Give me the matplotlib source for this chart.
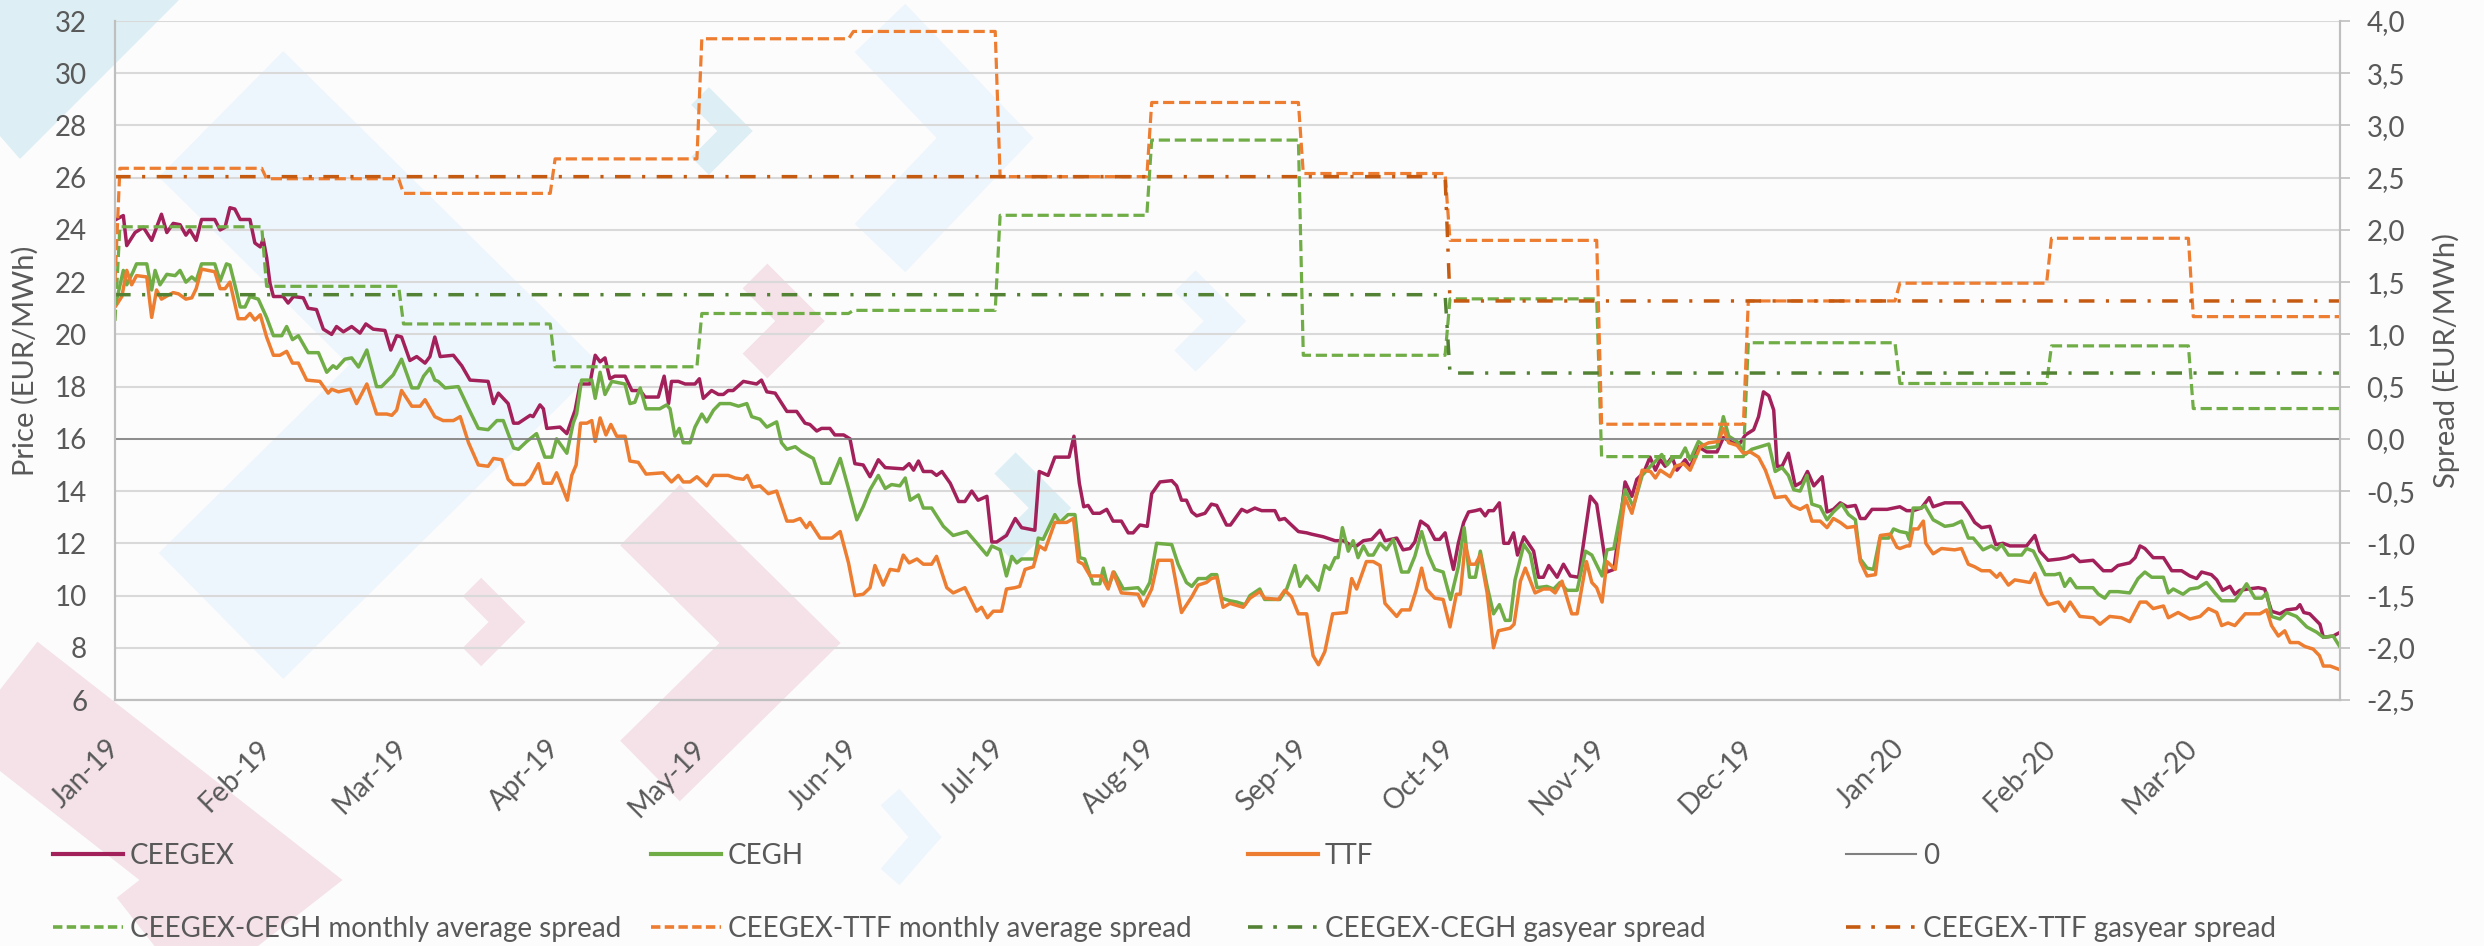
import matplotlib
matplotlib.use('Agg')
import matplotlib.pyplot as plt
import matplotlib.dates as mdates
from matplotlib.lines import Line2D
from matplotlib.patches import Polygon
import numpy as np
import pandas as pd

plt.rcParams['font.family'] = ['Lato', 'DejaVu Sans']

# ---- data ----------------------------------------------------------------
# daily prices, x given as days since 2019-01-01
ceegex_days = [0.2, 1.7, 2.4, 4.1, 5.8, 7.5, 9.5, 10.6, 11.9, 13.3, 14.5, 15.3, 16.6, 17.7, 20.4, 21.5, 22.5,
               23.5, 24.5, 25.6, 27.6, 28.6, 29.7, 30.3, 31.0, 31.7, 32.4, 34.4, 35.4, 36.5, 38.5, 39.5, 41.2,
               42.6, 44.3, 45.3, 46.7, 48.4, 50.1, 51.3, 52.8, 55.2, 56.4, 57.6, 58.6, 60.3, 61.7, 63.4, 64.4,
               65.4, 66.5, 69.2, 70.9, 72.6, 76.3, 77.4, 78.4, 80.4, 81.5, 82.5, 84.9, 85.5, 86.9, 87.6, 88.3,
               91.0, 92.4, 94.1, 95.1, 97.1, 98.2, 99.2, 100.2, 101.2, 102.2, 104.3, 105.7, 107.4, 108.4, 111.1,
               112.3, 113.2, 113.8, 115.2, 116.6, 118.6, 119.5, 120.3, 122.0, 123.4, 124.4, 125.4, 126.4, 128.5,
               129.9, 131.2, 132.2, 133.3, 135.0, 137.4, 139.4, 141.1, 142.1, 143.5, 144.5, 146.2, 147.2, 149.0,
               150.3, 151.3, 153.0, 154.4, 156.1, 157.5, 161.2, 162.4, 163.3, 164.3, 165.3, 167.0, 168.0, 169.1,
               170.8, 172.5, 173.8, 175.2, 176.5, 178.3, 179.3, 180.3, 182.3, 184.1, 185.4, 188.1, 189.0, 190.8,
               192.2, 195.1, 196.1, 197.2, 198.1, 199.0, 200.0, 201.4, 202.8, 204.1, 205.8, 207.2, 208.2, 209.6,
               211.1, 212.0, 213.7, 216.1, 217.1, 218.1, 219.1, 220.2, 221.2, 222.9, 224.2, 225.3, 227.3, 228.1,
               230.4, 231.5, 233.1, 234.5, 237.2, 238.1, 239.2, 240.3, 242.0, 243.7, 244.7, 247.1, 249.5, 251.2,
               252.5, 253.9, 255.3, 257.0, 258.7, 259.7, 262.1, 263.4, 264.8, 265.8, 267.0, 268.5, 269.9, 270.9,
               272.0, 273.7, 274.7, 275.8, 276.8, 278.2, 279.2, 280.2, 280.9, 281.9, 283.1, 284.0, 285.0, 286.0,
               286.8, 288.1, 290.1, 291.1, 292.1, 293.2, 294.9, 296.2, 297.6, 299.3, 301.7, 303.0, 305.1, 306.5,
               307.8, 308.8, 310.2, 311.2, 312.6, 313.9, 315.0, 316.0, 317.0, 318.4, 319.4, 321.1, 322.1, 323.8,
               325.5, 327.6, 328.9, 330.3, 332.0, 333.4, 335.1, 336.1, 337.1, 338.2, 339.2, 339.9, 340.9, 342.2,
               343.6, 345.0, 346.1, 347.4, 349.1, 350.1, 351.4, 352.8, 354.2, 355.9, 356.9, 357.9, 359.3, 362.4,
               363.7, 365.0, 366.4, 367.7, 369.4, 371.0, 371.8, 374.2, 377.6, 379.0, 380.3, 381.7, 383.4, 384.6,
               386.1, 387.5, 388.5, 390.9, 392.6, 393.6, 395.3, 397.7, 399.1, 400.4, 401.8, 404.5, 406.6, 408.3,
               409.6, 412.0, 413.1, 414.1, 415.1, 416.8, 418.9, 420.6, 422.6, 424.3, 425.7, 426.7, 428.7, 429.8,
               431.0, 432.5, 433.5, 434.5, 436.2, 438.3, 439.6, 441.0, 442.7, 444.1, 446.1, 446.8, 447.6, 448.8,
               450.9, 451.6, 453.6, 455.1]
ceegex = [24.4, 24.55, 23.4, 23.9, 24.1, 23.6, 24.6, 23.9, 24.25, 24.2, 23.8, 24.0, 23.6, 24.4, 24.4, 24.0, 24.1,
          24.85, 24.8, 24.4, 24.4, 23.5, 23.35, 23.65, 22.95, 21.95, 21.45, 21.45, 21.2, 21.45, 21.4, 21.0, 20.95,
          20.2, 20.0, 20.3, 20.1, 20.3, 20.05, 20.4, 20.2, 20.15, 19.4, 19.95, 19.9, 19.0, 19.15, 18.9, 19.15,
          19.9, 19.15, 19.2, 18.8, 18.25, 18.2, 17.35, 17.75, 17.35, 16.6, 16.6, 16.9, 16.85, 17.3, 17.15, 16.4,
          16.45, 16.2, 17.1, 18.1, 18.1, 19.2, 18.95, 19.1, 18.3, 18.4, 18.4, 17.85, 17.85, 17.6, 17.6,
          18.4, 17.35, 18.2, 18.2, 18.1, 18.1, 18.3, 17.55, 17.85, 17.7, 17.7, 17.85, 17.85, 18.2,
          18.15, 18.1, 18.25, 17.8, 17.75, 17.05, 17.05, 16.6, 16.55, 16.3, 16.4, 16.4, 16.15, 16.15,
          16.0, 15.05, 15.0, 14.55, 15.2, 14.9, 14.85, 15.05, 14.8, 15.15, 14.75, 14.75, 14.6, 14.75,
          14.3, 13.6, 13.6, 14.0, 13.65, 13.8, 12.05, 12.05, 12.3, 12.95, 12.6, 12.5, 14.75, 14.6,
          15.3, 15.3, 16.1, 14.3, 13.4, 13.45, 13.15, 13.15, 13.3, 12.85, 12.85, 12.4, 12.4, 12.7,
          12.65, 13.9, 14.35, 14.4, 14.2, 13.65, 13.65, 13.2, 13.05, 13.15, 13.5, 13.45, 12.7, 12.7,
          13.3, 13.2, 13.35, 13.25, 13.25, 12.9, 12.95, 12.75, 12.45, 12.4, 12.35, 12.25, 12.1, 12.1,
          11.95, 11.9, 12.1, 12.15, 12.5, 12.1, 12.2, 11.75, 11.8, 12.05, 12.85, 12.65, 12.15, 12.15,
          12.4, 11.0, 12.0, 12.8, 13.2, 13.25, 13.3, 13.05, 13.25, 13.25, 13.55, 12.0, 12.0, 12.4,
          11.55, 12.25, 11.7, 10.7, 10.7, 11.15, 10.7, 11.2, 10.75, 10.7, 13.8, 13.5, 10.9, 11.0,
          12.8, 14.35, 13.8, 14.45, 14.7, 15.3, 14.8, 15.2, 14.95, 15.3, 14.8, 15.2, 14.9, 15.7,
          15.5, 15.5, 16.05, 15.9, 15.75, 16.15, 16.35, 16.85, 17.8, 17.65, 17.1, 14.95, 14.95, 15.45,
          14.2, 14.35, 14.75, 14.2, 14.55, 13.2, 13.3, 13.55, 13.4, 13.45, 12.95, 12.95, 13.3, 13.3,
          13.35, 13.4, 13.25, 13.25, 13.35, 13.75, 13.4, 13.55, 13.55, 13.2, 12.8, 12.6, 12.65, 11.95,
          12.0, 11.9, 11.9, 11.9, 12.3, 11.7, 11.35, 11.4, 11.45, 11.55, 11.3, 11.35, 10.95, 10.95,
          11.15, 11.25, 11.45, 11.9, 11.8, 11.45, 11.45, 10.95, 10.95, 10.75, 10.65, 10.9, 10.8, 10.6,
          10.2, 10.35, 10.05, 10.2, 10.25, 10.3, 10.25, 9.4, 9.3, 9.45, 9.5, 9.65, 9.35, 9.3,
          8.9, 8.4, 8.45, 8.6]

cegh_days = [0.2, 1.7, 2.4, 3.7, 4.4, 6.5, 7.5, 8.2, 9.2, 10.6, 12.3, 13.3, 14.5, 15.7, 16.6, 17.7, 20.4, 21.5,
             22.8, 23.5, 24.9, 25.6, 26.6, 27.6, 29.3, 31.0, 32.4, 34.1, 35.1, 36.3, 37.5, 39.5, 41.6, 43.3,
             44.6, 45.3, 47.0, 48.4, 49.8, 51.5, 53.5, 54.5, 56.9, 58.6, 60.7, 62.0, 63.1, 64.4, 65.4, 66.1,
             67.5, 70.2, 72.6, 74.3, 76.3, 78.1, 79.4, 81.5, 82.5, 84.2, 86.2, 87.9, 89.3, 90.3, 92.4, 93.7,
             94.4, 95.4, 97.5, 98.2, 99.2, 100.2, 101.6, 104.3, 105.3, 106.3, 107.4, 108.6, 111.4, 112.8, 113.5,
             114.5, 115.4, 116.2, 117.6, 118.6, 120.0, 121.0, 122.4, 123.7, 125.8, 127.5, 129.2, 130.2, 131.9,
             133.3, 135.3, 136.3, 137.4, 139.1, 140.4, 142.8, 144.5, 146.2, 148.3, 150.0, 151.7, 153.0, 154.4,
             156.1, 157.5, 158.8, 160.5, 161.6, 162.6, 164.3, 165.3, 167.0, 169.4, 171.4, 174.2, 176.5, 178.3,
             179.3, 181.0, 182.3, 183.4, 184.4, 185.4, 188.1, 188.8, 189.8, 192.2, 193.2, 194.9, 196.3, 197.3,
             198.3, 200.0, 201.4, 202.1, 203.1, 204.3, 206.2, 209.2, 210.3, 211.6, 213.0, 216.1, 217.4, 219.1,
             220.2, 221.5, 223.2, 224.2, 225.3, 226.3, 228.0, 229.4, 231.1, 232.1, 234.1, 235.1, 238.2, 239.6,
             241.3, 242.3, 243.7, 246.1, 247.4, 248.4, 249.5, 250.1, 251.0, 252.2, 253.2, 254.2, 255.3, 256.3,
             257.3, 258.7, 260.0, 261.4, 263.1, 264.5, 265.8, 267.2, 268.5, 269.9, 271.6, 273.1, 274.7, 275.9,
             277.0, 278.2, 279.2, 280.6, 281.9, 283.1, 284.3, 285.3, 286.3, 288.1, 289.4, 290.8, 292.8, 294.2,
             295.5, 296.9, 299.0, 300.7, 302.0, 304.1, 305.1, 306.5, 308.8, 310.5, 312.3, 314.0, 315.3, 316.3,
             317.4, 318.7, 320.1, 321.1, 322.1, 323.8, 325.5, 327.6, 328.9, 330.0, 331.7, 333.4, 334.7, 338.2,
             339.5, 340.9, 342.2, 343.3, 344.6, 346.0, 347.0, 348.7, 350.1, 351.4, 353.1, 354.5, 355.9, 356.9,
             358.3, 359.6, 360.9, 362.7, 363.7, 365.0, 366.4, 366.9, 367.7, 369.4, 370.1, 371.8, 372.8, 374.2,
             375.9, 377.6, 379.0, 380.0, 382.0, 383.7, 384.8, 385.8, 387.2, 388.5, 389.9, 390.9, 392.3, 394.7,
             396.7, 397.7, 398.7, 399.8, 401.1, 404.5, 405.6, 406.9, 407.9, 409.6, 412.0, 413.7, 415.1, 416.5,
             418.9, 419.9, 420.9, 422.9, 424.3, 426.0, 427.7, 429.4, 430.8, 433.5, 434.5, 435.9, 437.6, 439.0,
             440.0, 441.0, 442.7, 444.1, 446.1, 448.2, 450.2, 451.6, 453.6, 455.1]
cegh = [21.2, 22.45, 21.9, 22.4, 22.7, 22.7, 21.7, 22.45, 21.9, 22.3, 22.25, 22.45, 22.0, 22.2, 22.05, 22.7, 22.7,
        22.05, 22.7, 22.65, 21.6, 21.05, 21.05, 21.45, 21.35, 20.65, 19.95, 19.95, 20.3, 19.8, 19.95, 19.3, 19.3,
        18.55, 18.8, 18.7, 19.05, 19.1, 18.75, 19.4, 18.0, 18.0, 18.45, 19.05, 17.95, 17.95, 18.4, 18.7, 18.25,
        18.2, 17.95, 18.0, 17.05, 16.4, 16.35, 16.7, 16.7, 15.65, 15.6, 15.9, 16.2, 15.3, 15.3, 16.0, 15.45,
        16.6, 16.95, 18.25, 18.25, 17.55, 18.55, 17.7, 18.2, 18.1, 17.35, 17.4, 17.95, 17.15, 17.15, 17.3,
        17.15, 16.1, 16.4, 15.85, 15.85, 16.45, 16.95, 16.65, 17.1, 17.35, 17.35, 17.25, 17.35, 16.85, 16.75,
        16.45, 16.65, 15.85, 15.6, 15.7, 15.5, 15.25, 14.3, 14.3, 15.25, 14.1, 12.9, 13.4, 14.05,
        14.6, 14.1, 14.25, 14.2, 14.5, 13.65, 13.85, 13.35, 13.35, 12.65, 12.3, 12.45, 11.95, 11.55,
        11.9, 11.75, 10.75, 11.5, 11.25, 11.4, 11.4, 12.2, 12.15, 13.1, 12.8, 13.1, 13.1, 11.45,
        11.4, 10.45, 10.45, 11.05, 10.3, 10.9, 10.25, 10.3, 10.05, 10.5, 12.0, 11.95, 11.2, 10.5,
        10.35, 10.65, 10.65, 10.8, 10.8, 9.9, 9.8, 9.75, 9.65, 10.0, 10.25, 9.85, 9.85, 10.25,
        11.15, 10.35, 10.75, 10.2, 11.15, 11.0, 11.45, 11.45, 12.6, 11.7, 12.1, 11.45, 11.9, 11.55,
        11.55, 12.0, 11.75, 12.15, 10.9, 10.9, 11.5, 12.45, 11.6, 11.0, 10.9, 9.85, 11.1, 12.6,
        10.7, 10.7, 11.7, 10.35, 9.3, 9.65, 9.05, 9.05, 10.6, 11.95, 11.6, 10.3, 10.35, 10.25,
        10.5, 10.2, 10.2, 11.7, 11.55, 10.75, 11.75, 11.8, 14.05, 13.4, 14.6, 14.95, 15.2, 15.4,
        15.0, 15.3, 15.3, 15.65, 15.2, 15.9, 15.65, 15.7, 16.85, 16.1, 15.9, 15.4, 15.6, 15.8,
        14.75, 14.9, 14.6, 14.05, 14.0, 14.6, 13.5, 13.4, 12.9, 13.2, 13.5, 13.1, 12.9, 11.4,
        11.05, 11.0, 12.2, 12.2, 12.55, 12.45, 12.4, 12.15, 13.35, 13.35, 13.45, 12.9, 12.8, 12.65,
        12.7, 12.85, 12.2, 12.2, 11.75, 11.9, 11.75, 11.95, 11.55, 11.55, 11.55, 11.8, 11.7, 10.8,
        10.8, 10.85, 10.35, 10.65, 10.3, 10.3, 10.05, 9.9, 10.15, 10.15, 10.1, 10.65, 10.9, 10.7,
        10.7, 10.1, 10.25, 10.05, 10.25, 10.3, 10.5, 10.1, 9.8, 9.8, 10.05, 10.45, 9.9, 9.9,
        10.1, 9.2, 9.1, 9.35, 9.2, 8.8, 8.6, 8.4, 8.45, 8.0]

ttf_days = [0.2, 1.4, 2.4, 3.4, 4.4, 6.5, 7.5, 8.5, 9.5, 10.9, 11.9, 13.0, 14.5, 15.7, 16.6, 17.7, 20.4, 21.5,
            22.5, 23.5, 25.2, 26.6, 27.6, 28.6, 29.7, 31.0, 32.4, 33.7, 35.1, 36.3, 37.5, 39.2, 41.9, 43.6,
            44.3, 45.7, 48.1, 49.4, 51.5, 53.5, 55.6, 56.6, 57.6, 58.6, 60.7, 62.4, 63.4, 65.4, 67.1, 69.2,
            70.6, 72.3, 74.3, 76.3, 77.4, 79.1, 80.4, 81.5, 83.8, 84.9, 86.6, 87.6, 89.3, 90.3, 92.5, 93.4,
            94.3, 95.2, 96.5, 97.5, 98.2, 99.2, 100.4, 101.4, 102.6, 104.3, 105.3, 107.0, 108.6, 112.1, 113.8,
            115.2, 116.2, 117.6, 119.0, 121.0, 122.4, 125.4, 126.8, 128.5, 129.3, 130.4, 131.9, 133.6, 135.3,
            137.4, 138.7, 140.1, 141.4, 142.1, 144.2, 146.6, 148.3, 150.0, 151.3, 153.0, 154.4, 155.4, 157.1,
            158.5, 160.2, 161.2, 162.4, 164.0, 165.3, 167.0, 168.0, 170.1, 171.4, 173.8, 176.2, 177.2, 178.4,
            179.6, 181.3, 182.3, 184.0, 185.0, 186.1, 187.8, 189.0, 190.2, 192.2, 194.6, 196.0, 197.0, 198.0,
            199.4, 201.7, 203.1, 204.1, 205.8, 209.2, 210.3, 212.0, 213.3, 216.1, 218.1, 220.2, 221.5, 223.2,
            224.2, 225.3, 226.6, 228.0, 230.7, 232.1, 234.1, 235.1, 237.9, 239.2, 240.6, 242.0, 243.7, 245.0,
            246.1, 247.4, 249.0, 251.8, 252.9, 253.9, 255.9, 257.3, 258.7, 259.7, 262.1, 263.1, 264.8, 266.0,
            267.2, 268.2, 269.9, 271.6, 273.0, 274.3, 275.1, 276.1, 277.1, 278.2, 279.2, 280.6, 281.9, 282.9,
            285.3, 286.1, 287.4, 288.4, 290.4, 292.1, 293.5, 294.5, 295.9, 297.9, 299.0, 300.9, 302.0, 303.0,
            304.1, 305.1, 306.8, 308.8, 310.2, 312.3, 314.0, 315.0, 316.0, 318.0, 319.1, 320.8, 322.1, 324.2,
            325.9, 327.9, 328.9, 330.0, 331.7, 333.0, 334.4, 336.1, 337.5, 339.5, 341.6, 342.9, 344.6, 346.0,
            347.0, 348.7, 350.1, 351.4, 352.8, 354.2, 355.9, 356.9, 358.3, 360.0, 361.0, 363.0, 364.4, 365.0,
            366.4, 367.0, 367.7, 368.7, 369.8, 370.3, 371.8, 373.5, 376.2, 377.6, 379.0, 380.3, 381.7, 383.4,
            384.8, 385.5, 387.2, 388.5, 391.6, 392.6, 394.0, 395.3, 397.4, 398.7, 399.8, 401.8, 404.5, 405.9,
            407.9, 410.3, 412.0, 414.1, 415.4, 416.8, 418.9, 419.9, 421.9, 424.3, 426.4, 428.1, 429.8, 430.8,
            432.1, 433.5, 435.6, 438.6, 440.0, 441.0, 442.4, 443.7, 444.8, 446.5, 447.8, 449.5, 450.8, 451.6,
            453.0, 454.4, 455.1]
ttf = [21.1, 21.45, 22.45, 21.9, 22.25, 22.2, 20.65, 21.7, 21.35, 21.5, 21.6, 21.55, 21.35, 21.4, 21.75, 22.5, 22.4,
       21.75, 21.75, 22.0, 20.6, 20.6, 20.8, 20.55, 20.75, 19.9, 19.2, 19.2, 19.35, 18.9, 18.9, 18.25, 18.2, 17.75,
       17.9, 17.8, 17.9, 17.35, 18.1, 16.95, 16.95, 16.9, 17.1, 17.85, 17.25, 17.25, 17.5, 16.85, 16.7, 16.7,
       16.85, 15.85, 15.0, 14.95, 15.25, 15.2, 14.45, 14.25, 14.25, 14.45, 15.05, 14.3, 14.3, 14.7, 13.65, 14.6,
       15.0, 16.6, 16.6, 16.7, 15.9, 16.8, 16.15, 16.55, 16.1, 16.1, 15.15, 15.1, 14.65, 14.7, 14.35,
       14.6, 14.35, 14.35, 14.55, 14.2, 14.6, 14.6, 14.5, 14.45, 14.6, 14.15, 14.2, 13.9, 14.0,
       12.85, 12.85, 12.95, 12.6, 12.8, 12.2, 12.2, 12.45, 11.25, 10.0, 10.05, 10.3, 11.15, 10.4,
       11.0, 10.95, 11.55, 11.25, 11.4, 11.2, 11.2, 11.5, 10.3, 10.1, 10.3, 9.4, 9.55, 9.15,
       9.4, 9.4, 10.25, 10.3, 10.35, 11.0, 11.1, 11.9, 11.75, 12.8, 12.8, 12.95, 11.3, 11.2,
       10.75, 10.75, 10.25, 10.9, 10.1, 10.05, 9.6, 10.25, 11.35, 11.35, 9.35, 9.95, 10.4, 10.5,
       10.65, 10.7, 9.55, 9.7, 9.55, 9.9, 10.15, 9.9, 9.85, 10.2, 9.95, 9.3, 9.3, 7.7,
       7.35, 7.85, 9.3, 9.35, 10.65, 10.25, 11.3, 11.3, 11.15, 9.7, 9.2, 9.45, 9.45, 10.15,
       11.05, 10.25, 9.9, 9.85, 8.8, 10.05, 10.05, 11.95, 11.2, 11.2, 11.55, 10.1, 8.0, 8.65,
       8.75, 8.9, 10.55, 11.05, 10.1, 10.25, 10.25, 10.1, 10.55, 9.3, 9.3, 11.3, 10.5, 10.3,
       9.75, 11.3, 11.0, 13.75, 13.15, 14.8, 14.75, 14.5, 14.8, 14.55, 14.95, 15.05, 14.8, 15.7,
       15.85, 15.9, 16.4, 15.85, 15.75, 15.45, 15.5, 15.3, 14.8, 13.75, 13.8, 13.45, 13.3, 13.45,
       12.85, 12.85, 12.6, 12.95, 12.8, 12.6, 12.65, 11.3, 10.75, 10.8, 12.3, 12.35, 11.85, 11.8,
       11.9, 11.9, 12.55, 12.55, 12.85, 12.0, 11.6, 11.8, 11.75, 11.8, 11.2, 11.1, 10.95, 10.95,
       10.7, 10.85, 10.4, 10.6, 10.5, 10.85, 10.05, 9.65, 9.75, 9.4, 9.75, 9.2, 9.15, 8.9,
       9.2, 9.15, 9.0, 9.75, 9.75, 9.5, 9.6, 9.15, 9.35, 9.1, 9.2, 9.5, 9.35, 8.85,
       8.95, 8.85, 9.3, 9.3, 9.45, 8.85, 8.45, 8.65, 8.2, 8.2, 8.05, 7.95, 7.7, 7.3,
       7.3, 7.2, 7.15]

# monthly average spreads (EUR/MWh), Jan-19 .. Mar-20
months = ['2019-01', '2019-02', '2019-03', '2019-04', '2019-05', '2019-06', '2019-07', '2019-08',
          '2019-09', '2019-10', '2019-11', '2019-12', '2020-01', '2020-02', '2020-03']
spread_cegh_month = [2.03, 1.46, 1.10, 0.69, 1.20, 1.23, 2.14, 2.86, 0.80, 1.34, -0.17, 0.92, 0.53, 0.89, 0.29]
spread_ttf_month = [2.59, 2.49, 2.35, 2.68, 3.83, 3.90, 2.51, 3.22, 2.54, 1.90, 0.14, 1.32, 1.49, 1.92, 1.17]
# the monthly series start on 1 Jan 2019 from a lower value
spread_cegh_jan1 = 1.13
spread_ttf_jan1 = 1.50

# gas year spreads: gas year 2018/19 (to end Sep-19) and 2019/20
gasyear_start = ['2019-01-01', '2019-10-01']
gasyear_end = ['2019-09-30', '2020-03-31']
spread_cegh_gasyear = [1.38, 0.63]
spread_ttf_gasyear = [2.51, 1.32]

# ---- styling ---------------------------------------------------------------
W, H = 2484, 946
TXT = '#595959'
FS = 20
c_ceegex = '#A3215B'
c_cegh = '#70AD47'
c_ttf = '#ED7D31'
c_zero = '#7F7F7F'
c_cegh_gy = '#548235'
c_ttf_gy = '#C55A11'
DASH = (3.5, 1.5)
DASHDOT = (4.5, 3.3, 0.9, 3.3)

fig = plt.figure(figsize=(W / 100, H / 100), dpi=100)
fig.patch.set_facecolor('#FCFCFC')


# faint watermark chevrons behind the chart (figure pixel coords)
def px(x, y):
    return x / W, 1 - y / H


def chevron(pts, width, color):
    xs, ys = zip(*[px(x, y) for x, y in pts])
    fig.add_artist(Line2D(xs, ys, transform=fig.transFigure, color=color, lw=width * 0.72,
                          solid_joinstyle='miter', solid_capstyle='butt', zorder=-5))


blue = '#EEF6FD'
teal = '#DDEFF4'
pink = '#F4E2E8'
fig.add_artist(Polygon([px(0, 0), px(178, 0), px(20, 158), px(0, 135)], closed=True,
                       transform=fig.transFigure, color=teal, zorder=-5))
chevron([(221, 114), (475, 365), (221, 616)], 177, blue)
chevron([(-79, 630), (241, 880), (-79, 1130)], 125, pink)
chevron([(650, 515), (780, 643), (650, 771)], 85, pink)
chevron([(472, 587), (507, 622), (472, 657)], 26, pink)
chevron([(755, 276), (800, 321), (755, 366)], 35, pink)
chevron([(700, 96), (735, 131), (700, 166)], 25, teal)
chevron([(880, 28), (985, 138), (880, 248)], 70, blue)
chevron([(1185, 281), (1225, 321), (1185, 361)], 30, blue)
chevron([(1005, 463), (1050, 508), (1005, 553)], 30, teal)
chevron([(890, 797), (925, 837), (890, 877)], 25, blue)

# ---- axes --------------------------------------------------------------------
ax = fig.add_axes([115 / W, 1 - 700 / H, (2340 - 115) / W, (700 - 21) / H])
ax.patch.set_visible(False)
ax2 = ax.twinx()

base = pd.Timestamp('2019-01-01')


def to_dates(days):
    return base + pd.to_timedelta(np.array(days), unit='D')


ax.plot(to_dates(ceegex_days), ceegex, color=c_ceegex, lw=2.5)
ax.plot(to_dates(cegh_days), cegh, color=c_cegh, lw=2.5)
ax.plot(to_dates(ttf_days), ttf, color=c_ttf, lw=2.5)

start = pd.Timestamp('2019-01-01')
end = pd.Timestamp('2020-03-31')
ax2.plot([start, end], [0, 0], color=c_zero, lw=1.2)

# monthly spreads: flat from first to last day of each month (Jan starts on the 2nd,
# after the 1 Jan starting value)
mx = [start]
for i, m in enumerate(pd.to_datetime(months)):
    first = m + pd.Timedelta(days=1) if i == 0 else m
    mx += [first, m + pd.offsets.MonthEnd(0)]
ax2.plot(mx, [spread_cegh_jan1] + list(np.repeat(spread_cegh_month, 2)),
         color=c_cegh, lw=2.3, dashes=DASH)
ax2.plot(mx, [spread_ttf_jan1] + list(np.repeat(spread_ttf_month, 2)),
         color=c_ttf, lw=2.3, dashes=DASH)

gx = []
for s, e in zip(gasyear_start, gasyear_end):
    gx += [pd.Timestamp(s), pd.Timestamp(e)]
ax2.plot(gx, np.repeat(spread_cegh_gasyear, 2), color=c_cegh_gy, lw=2.5, dashes=DASHDOT)
ax2.plot(gx, np.repeat(spread_ttf_gasyear, 2), color=c_ttf_gy, lw=2.5, dashes=DASHDOT)

# left axis (price)
ax.set_xlim(start, end)
ax.set_ylim(6, 32)
ax.set_yticks(np.arange(6, 33, 2))
ax.yaxis.grid(True, color='#D9D9D9', lw=1.5)
ax.set_axisbelow(True)
ax.tick_params(axis='y', length=0, pad=20, labelsize=FS, labelcolor=TXT)
ax.set_ylabel('Price (EUR/MWh)', fontsize=21, color=TXT, labelpad=12)

# right axis (spread)
ax2.set_ylim(-2.5, 4.0)
r_ticks = np.arange(-2.5, 4.01, 0.5)
ax2.set_yticks(r_ticks)
ax2.set_yticklabels([f'{v:.1f}'.replace('.', ',') for v in r_ticks])
ax2.tick_params(axis='y', length=7, width=1.2, color='#BFBFBF', pad=12, labelsize=FS, labelcolor=TXT)
ax2.set_ylabel('Spread (EUR/MWh)', fontsize=21, color=TXT, labelpad=12)

# date axis
ax.xaxis.set_major_locator(mdates.MonthLocator())
ax.xaxis.set_major_formatter(mdates.DateFormatter('%b-%y'))
ax.tick_params(axis='x', length=0, pad=32, labelsize=FS, labelcolor=TXT)
for lbl in ax.get_xticklabels():
    lbl.set_rotation(45)
    lbl.set_ha('right')
    lbl.set_va('center')
    lbl.set_rotation_mode('anchor')

for a in (ax, ax2):
    a.spines['top'].set_visible(False)
    for s in ('left', 'right', 'bottom'):
        a.spines[s].set_color('#BFBFBF')
        a.spines[s].set_linewidth(1.5)

# ---- legend: 4 columns x 2 rows below the plot --------------------------------
entries = [
    [(Line2D([], [], color=c_ceegex, lw=3), 'CEEGEX'),
     (Line2D([], [], color=c_cegh, lw=2.6, dashes=(2.6, 1.2)), 'CEEGEX-CEGH monthly average spread')],
    [(Line2D([], [], color=c_cegh, lw=3), 'CEGH'),
     (Line2D([], [], color=c_ttf, lw=2.6, dashes=(2.6, 1.2)), 'CEEGEX-TTF monthly average spread')],
    [(Line2D([], [], color=c_ttf, lw=3), 'TTF'),
     (Line2D([], [], color=c_cegh_gy, lw=2.6, dashes=(4, 3, 1, 3)), 'CEEGEX-CEGH gasyear spread')],
    [(Line2D([], [], color=c_zero, lw=1.5), '0'),
     (Line2D([], [], color=c_ttf_gy, lw=2.6, dashes=(4, 3, 1, 3)), 'CEEGEX-TTF gasyear spread')],
]
col_x = [53, 651, 1248, 1846]
for x0, col in zip(col_x, entries):
    handles, labels = zip(*col)
    leg = fig.legend(handles, labels, loc='upper left', bbox_to_anchor=px(x0, 843),
                     frameon=False, fontsize=FS, handlelength=2.52, handletextpad=0.25,
                     labelspacing=1.69, borderpad=0, borderaxespad=0)
    for t in leg.get_texts():
        t.set_color(TXT)

fig.savefig('out.png', dpi=100, facecolor=fig.get_facecolor())
